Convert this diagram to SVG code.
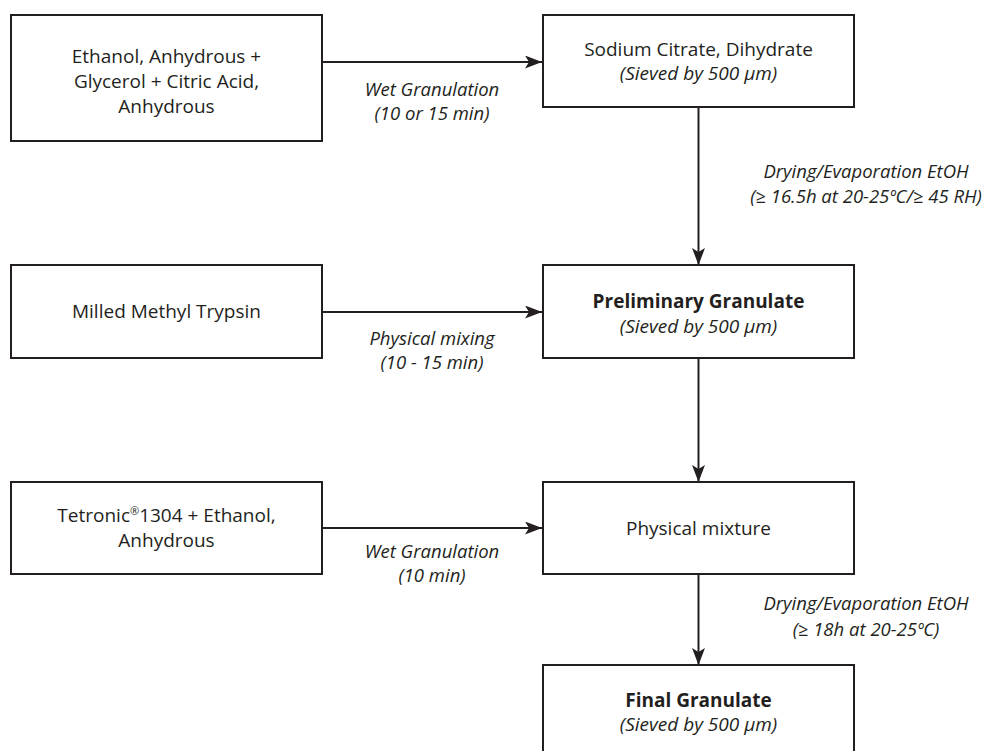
<svg xmlns="http://www.w3.org/2000/svg" width="989" height="751" viewBox="0 0 989 751">
<defs>
<style>
.box{fill:#fff;stroke:#231f20;stroke-width:2}
.t{font-family:"Open Sans","Noto Sans",sans-serif;font-size:19px;fill:#231f20;text-anchor:middle}
.i{font-style:italic}
.l{font-size:18.5px}
.b{font-weight:bold}
.c{stroke:#231f20;stroke-width:2;fill:none}
</style>
<marker id="ah" markerUnits="userSpaceOnUse" markerWidth="18" markerHeight="14" refX="17" refY="6.5" orient="auto">
<path d="M0,0 L17,6.5 L0,13 L4,6.5 Z" fill="#231f20"/>
</marker>
</defs>
<rect width="989" height="751" fill="#fff"/>
<g id="connectors">
<line class="c" x1="322" y1="62" x2="542" y2="62" marker-end="url(#ah)"/>
<line class="c" x1="322" y1="312" x2="542" y2="312" marker-end="url(#ah)"/>
<line class="c" x1="322" y1="528" x2="542" y2="528" marker-end="url(#ah)"/>
<line class="c" x1="698.5" y1="107" x2="698.5" y2="265" marker-end="url(#ah)"/>
<line class="c" x1="698.5" y1="358" x2="698.5" y2="482" marker-end="url(#ah)"/>
<line class="c" x1="698.5" y1="574" x2="698.5" y2="665" marker-end="url(#ah)"/>
<text class="t i l" x="432" y="96">Wet Granulation</text>
<text class="t i l" x="432" y="120">(10 or 15 min)</text>
<text class="t i l" x="866" y="178">Drying/Evaporation EtOH</text>
<text class="t i l" x="866" y="203">(≥ 16.5h at 20-25ºC/≥ 45 RH)</text>
<text class="t i l" x="432" y="345">Physical mixing</text>
<text class="t i l" x="432" y="369">(10 - 15 min)</text>
<text class="t i l" x="432" y="558">Wet Granulation</text>
<text class="t i l" x="432" y="582">(10 min)</text>
<text class="t i l" x="866" y="610">Drying/Evaporation EtOH</text>
<text class="t i l" x="866" y="636">(≥ 18h at 20-25ºC)</text>
</g>
<g id="n1">
<rect class="box" x="11" y="15" width="311" height="126"/>
<text class="t" x="166.5" y="63">Ethanol, Anhydrous +</text>
<text class="t" x="166.5" y="88">Glycerol + Citric Acid,</text>
<text class="t" x="166.5" y="113">Anhydrous</text>
</g>
<g id="n2">
<rect class="box" x="543" y="15" width="311" height="92"/>
<text class="t" x="698.5" y="56">Sodium Citrate, Dihydrate</text>
<text class="t i" x="698.5" y="80">(Sieved by 500 µm)</text>
</g>
<g id="n3">
<rect class="box" x="11" y="265" width="311" height="93"/>
<text class="t" x="166.5" y="318">Milled Methyl Trypsin</text>
</g>
<g id="n4">
<rect class="box" x="543" y="265" width="311" height="93"/>
<text class="t b" x="698.5" y="308">Preliminary Granulate</text>
<text class="t i" x="698.5" y="333">(Sieved by 500 µm)</text>
</g>
<g id="n5">
<rect class="box" x="11" y="482" width="311" height="92"/>
<text class="t" x="166.5" y="522">Tetronic<tspan font-size="11" dy="-7">®</tspan><tspan dy="7">1304 + Ethanol,</tspan></text>
<text class="t" x="166.5" y="547">Anhydrous</text>
</g>
<g id="n6">
<rect class="box" x="543" y="482" width="311" height="92"/>
<text class="t" x="698.5" y="535">Physical mixture</text>
</g>
<g id="n7">
<rect class="box" x="543" y="665" width="311" height="100"/>
<text class="t b" x="698.5" y="707">Final Granulate</text>
<text class="t i" x="698.5" y="731">(Sieved by 500 µm)</text>
</g>
</svg>
